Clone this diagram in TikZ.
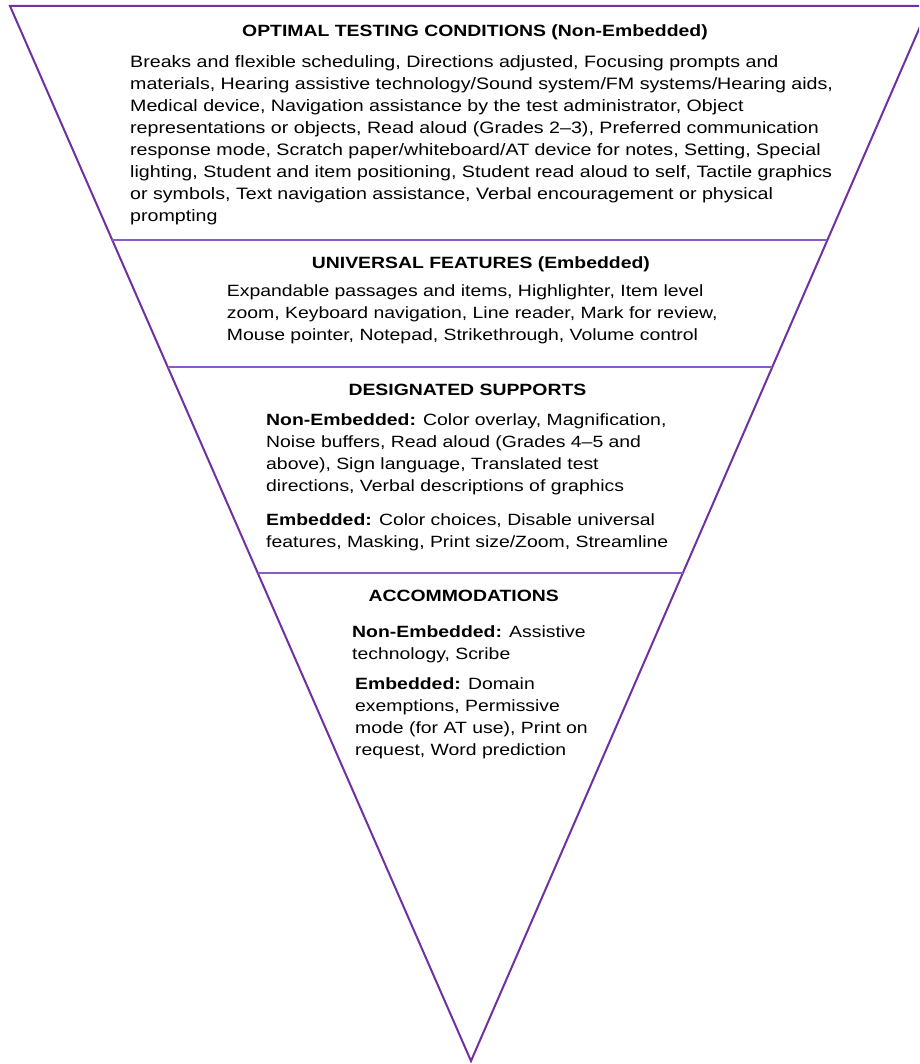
\documentclass[tikz,border=0pt]{standalone}
\usepackage{fontspec}
\setmainfont{Liberation Sans}[FakeStretch=1.19]
\usetikzlibrary{calc}
\definecolor{frame}{HTML}{7030A0}
\definecolor{divider}{HTML}{8A5BC4}
\tikzset{
  outline/.style={draw=frame, line width=2pt, line join=miter},
  sepline/.style={draw=divider, line width=1.5pt},
  titletext/.style={anchor=base west, inner sep=0pt, font=\fontsize{16.3pt}{22pt}\selectfont\bfseries},
  bodytext/.style={anchor=base west, inner sep=0pt, align=left, font=\fontsize{16.3pt}{22pt}\selectfont},
  topbody/.style={bodytext, font=\fontsize{16.5pt}{22pt}\selectfont}
}
\begin{document}
\begin{tikzpicture}[x=1pt, y=-1pt]
\useasboundingbox (0,0) rectangle (919,1064);
\fill[white] (0,0) rectangle (919,1064);
\coordinate (tl) at (10,6);
\coordinate (tr) at (929,6);
\coordinate (ap) at (471,1061);
\begin{scope}
\clip (0,0) rectangle (919,1064);
\draw[outline] (tl) -- (tr) -- (ap) -- cycle;
\end{scope}
\coordinate (d1l) at ($(tl)!0.2218!(ap)$);
\coordinate (d1r) at ($(tr)!0.2218!(ap)$);
\coordinate (d2l) at ($(tl)!0.3422!(ap)$);
\coordinate (d2r) at ($(tr)!0.3422!(ap)$);
\coordinate (d3l) at ($(tl)!0.5374!(ap)$);
\coordinate (d3r) at ($(tr)!0.5374!(ap)$);
\draw[sepline] (d1l) -- (d1r);
\draw[sepline] (d2l) -- (d2r);
\draw[sepline] (d3l) -- (d3r);

% multi-line nodes: base anchor sits on the last line's baseline
\node[titletext] (t1) at (242,36.7) {OPTIMAL TESTING CONDITIONS (Non-Embedded)};
\node[topbody] (b1) at (130,222) {Breaks and flexible scheduling, Directions adjusted, Focusing prompts and\\
materials, Hearing assistive technology/Sound system/FM systems/Hearing aids,\\
Medical device, Navigation assistance by the test administrator, Object\\
representations or objects, Read aloud (Grades 2--3), Preferred communication\\
response mode, Scratch paper/whiteboard/AT device for notes, Setting, Special\\
lighting, Student and item positioning, Student read aloud to self, Tactile graphics\\
or symbols, Text navigation assistance, Verbal encouragement or physical\\
prompting};

\node[titletext] (t2) at (311.7,268.2) {UNIVERSAL FEATURES (Embedded)};
\node[bodytext] (b2) at (226.7,340.5) {Expandable passages and items, Highlighter, Item level\\
zoom, Keyboard navigation, Line reader, Mark for review,\\
Mouse pointer, Notepad, Strikethrough, Volume control};

\node[titletext] (t3) at (348.3,395) {DESIGNATED SUPPORTS};
\node[bodytext] (b3a) at (266,491) {\textbf{Non-Embedded:} Color overlay, Magnification,\\
Noise buffers, Read aloud (Grades 4--5 and\\
above), Sign language, Translated test\\
directions, Verbal descriptions of graphics};
\node[bodytext] (b3b) at (266,547.5) {\textbf{Embedded:} Color choices, Disable universal\\
features, Masking, Print size/Zoom, Streamline};

\node[titletext] (t4) at (368.3,601.7) {ACCOMMODATIONS};
\node[bodytext] (b4a) at (352,659.3) {\textbf{Non-Embedded:} Assistive\\
technology, Scribe};
\node[bodytext] (b4b) at (355,755.5) {\textbf{Embedded:} Domain\\
exemptions, Permissive\\
mode (for AT use), Print on\\
request, Word prediction};
\end{tikzpicture}
\end{document}
